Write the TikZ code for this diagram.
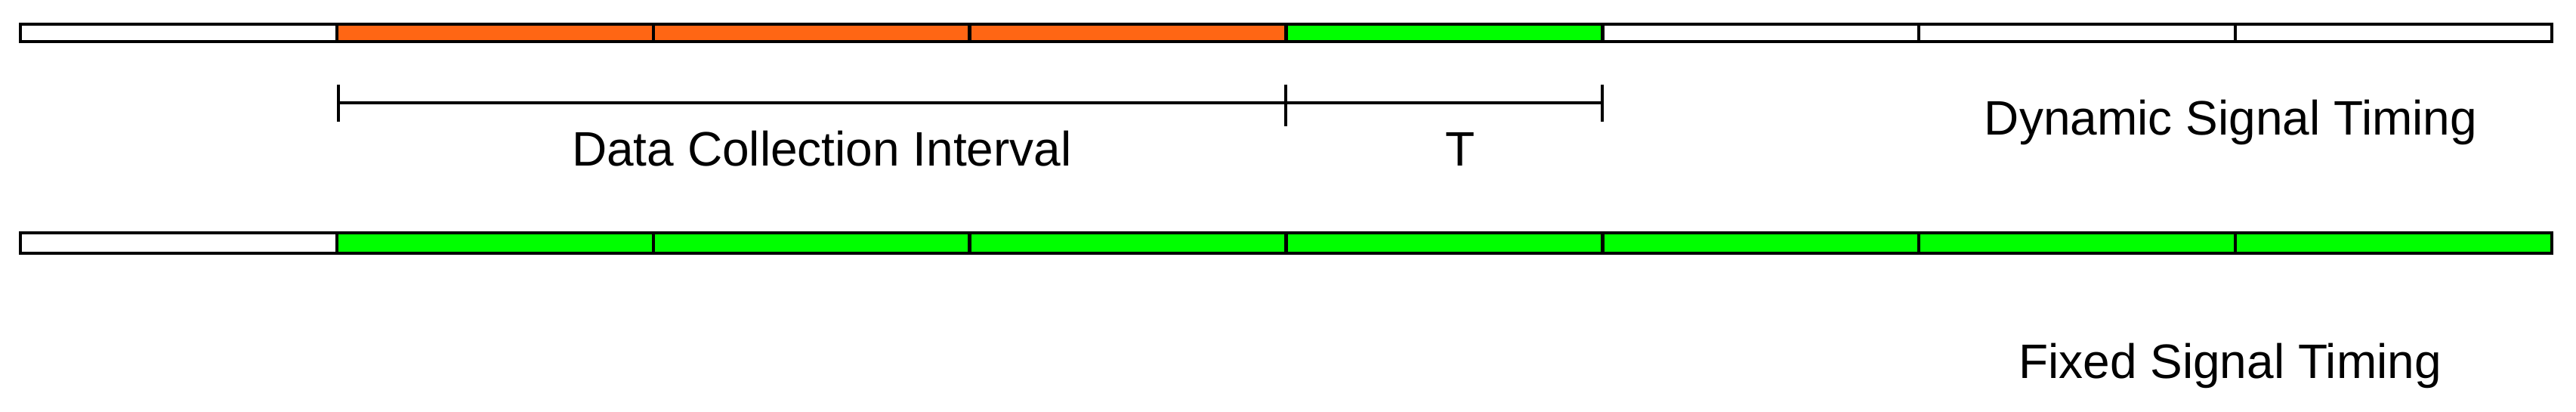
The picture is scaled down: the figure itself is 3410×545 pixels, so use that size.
\documentclass[tikz,border=0pt]{standalone}
\usepackage{fontspec}
\setmainfont{Liberation Sans}
\definecolor{sigorange}{RGB}{255,102,20}
\definecolor{siggreen}{RGB}{0,255,0}
\tikzset{
  cell/.style={draw=black, line width=1.1pt},
  bracket/.style={draw=black, line width=1pt, line cap=butt},
  lbl/.style={inner sep=0pt, anchor=base, font=\fontsize{16pt}{19pt}\selectfont}
}
\begin{document}
\begin{tikzpicture}[x=0.25pt,y=-0.25pt]
\useasboundingbox (0,0) rectangle (3410,545);
\pgfmathsetmacro{\cw}{418.875}
% top bar (dynamic)
\foreach \i/\c in {0/white,1/sigorange,2/sigorange,3/sigorange,4/siggreen,5/white,6/white,7/white}{
  \path[cell, fill=\c] ({27+\i*\cw},32) rectangle ({27+(\i+1)*\cw},55);
}
% bottom bar (fixed)
\foreach \i/\c in {0/white,1/siggreen,2/siggreen,3/siggreen,4/siggreen,5/siggreen,6/siggreen,7/siggreen}{
  \path[cell, fill=\c] ({27+\i*\cw},308) rectangle ({27+(\i+1)*\cw},335);
}
% bracket
\coordinate (b0) at (448,136);
\coordinate (b1) at (1702,136);
\coordinate (b2) at (2121,136);
\coordinate (b0t) at (448,112);
\coordinate (b0b) at (448,161);
\coordinate (b1t) at (1702,112);
\coordinate (b1b) at (1702,167);
\coordinate (b2t) at (2121,112);
\coordinate (b2b) at (2121,161);
\draw[bracket] (b0) -- (b1) -- (b2);
\draw[bracket] (b0t) -- (b0b);
\draw[bracket] (b1t) -- (b1b);
\draw[bracket] (b2t) -- (b2b);
% labels
\node[lbl] (dci) at (1088,220) {Data Collection Interval};
\node[lbl] (t) at (1933,220) {T};
\node[lbl] (dyn) at (2953,179) {Dynamic Signal Timing};
\node[lbl] (fix) at (2952,500) {Fixed Signal Timing};
\end{tikzpicture}
\end{document}
